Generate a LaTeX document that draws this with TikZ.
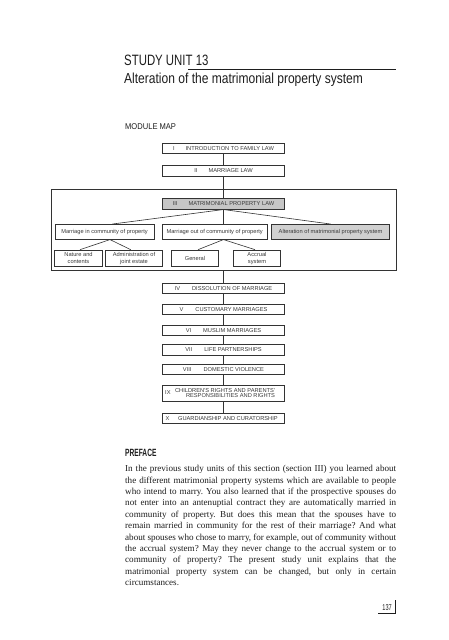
\documentclass[tikz,border=0pt]{standalone}
\usepackage{fontspec}
\usepackage{graphicx}
\setmainfont{Liberation Serif}
\newfontfamily\chartfont{Liberation Sans}
\usetikzlibrary{shadows}
\definecolor{ink}{HTML}{1E1E1E}
\definecolor{boxline}{HTML}{333333}
\definecolor{chartink}{HTML}{3A3A3A}
\definecolor{shadeA}{HTML}{C6C6C6}
\definecolor{shadeB}{HTML}{D0D0D0}
\newcommand\jline[1]{\hbox to 271pt{#1}}
\tikzset{
  mbox/.style={draw=boxline, line width=0.55pt, fill=white, inner sep=0pt,
    font=\chartfont\fontsize{5.7}{6.7}\selectfont, text=chartink, align=center,
    drop shadow={shadow xshift=0.7pt, shadow yshift=-0.7pt, fill=boxline, opacity=0.85}},
  mainbox/.style={mbox, minimum width=122pt, minimum height=10.2pt},
  rowbox/.style={mbox, minimum height=15pt},
  subbox/.style={mbox, minimum height=16.5pt},
  framebox/.style={draw=boxline, line width=0.7pt, fill=white, inner sep=0pt},
  conn/.style={draw=boxline, line width=0.6pt},
  head/.style={anchor=base west, inner sep=0pt, text=ink},
}
\begin{document}
\begin{tikzpicture}[x=1pt,y=-1pt]
\useasboundingbox (0,0) rectangle (448,640);
\fill[white] (0,0) rectangle (448,640);

% headings
\node[head] (su) at (124,65.5) {\chartfont\fontsize{15}{15}\selectfont\scalebox{0.76}[1]{STUDY UNIT 13}};
\node[head] (title) at (124,83.5) {\chartfont\fontsize{14.5}{14.5}\selectfont\scalebox{0.83}[1]{Alteration of the matrimonial property system}};
\coordinate (ruleA) at (188,69.3);
\coordinate (ruleB) at (396,69.3);
\draw[line width=0.9pt, ink] (ruleA) -- (ruleB);
\node[head] (mm) at (125,129.3) {\chartfont\fontsize{8.4}{8.4}\selectfont\scalebox{0.9}[1]{MODULE MAP}};

% frame
\node[framebox, minimum width=345pt, minimum height=81pt] (frame) at (223.5,229.5) {};

% main column boxes
\node[mainbox] (i) at (223.5,148.3) {I\hspace{11pt}INTRODUCTION TO FAMILY LAW};
\node[mainbox] (ii) at (223.5,170.8) {II\hspace{11pt}MARRIAGE LAW};
\node[mainbox, fill=shadeA, minimum height=11.3pt] (iii) at (223.5,203.6) {III\hspace{11pt}MATRIMONIAL PROPERTY LAW};

\node[rowbox, minimum width=99pt] (min) at (104.5,231.8) {Marriage in community of property};
\node[rowbox, minimum width=104.5pt] (mout) at (214.7,231.8) {Marriage out of community of property};
\node[rowbox, minimum width=118pt, fill=shadeB] (alt) at (330.5,231.8) {Alteration of matrimonial property system};

\node[subbox, minimum width=48.4pt] (nat) at (78.5,258.2) {Nature and\\contents};
\node[subbox, minimum width=57.4pt] (adm) at (134,258.2) {Administration of\\joint estate};
\node[subbox, minimum width=46.6pt] (gen) at (195,258.2) {General};
\node[subbox, minimum width=47.4pt] (acc) at (257,258.2) {Accrual\\system};

\node[mainbox] (iv) at (223.5,288.3) {IV\hspace{12pt}DISSOLUTION OF MARRIAGE};
\node[mainbox] (v) at (223.5,309.3) {V\hspace{12pt}CUSTOMARY MARRIAGES};
\node[mainbox] (vi) at (223.5,330.2) {VI\hspace{12pt}MUSLIM MARRIAGES};
\node[mainbox] (vii) at (223.5,349.7) {VII\hspace{12pt}LIFE PARTNERSHIPS};
\node[mainbox] (viii) at (223.5,369.2) {VIII\hspace{12pt}DOMESTIC VIOLENCE};
\node[mainbox, minimum height=16.7pt] (ix) at (223.5,393.3) {\makebox[122pt]{\hspace{2.7pt}IX\hfill\begin{tabular}{@{}r@{}}CHILDREN'S RIGHTS AND PARENTS'\\[-1.6pt]RESPONSIBILITIES AND RIGHTS\end{tabular}\hspace{9.5pt}}};
\node[mainbox] (x) at (223.5,418.3) {\makebox[122pt]{\hspace{3.2pt}X\hfill GUARDIANSHIP AND CURATORSHIP\hspace{6.8pt}}};

% connectors
\path[conn] (i) -- (ii);
\path[conn] (ii) -- (iii);
\path[conn] (iii.south) -- (iii.south |- mout.north);
\path[conn] (iii.south) -- ([xshift=8pt]min.north);
\path[conn] (iii.south) -- (alt.north);
\path[conn] ([xshift=5.5pt]min.south) -- ([xshift=1.5pt]nat.north);
\path[conn] ([xshift=5.5pt]min.south) -- ([xshift=-3.3pt]adm.north);
\path[conn] (mout.south -| iii.south) -- ([xshift=3pt]gen.north);
\path[conn] (mout.south -| iii.south) -- ([xshift=-2pt]acc.north);
\path[conn] (frame.south) -- (iv.north);
\path[conn] (iv) -- (v);
\path[conn] (v) -- (vi);
\path[conn] (vi) -- (vii);
\path[conn] (vii) -- (viii);
\path[conn] (viii) -- (ix);
\path[conn] (ix) -- (x);

% preface
\node[head] (pre) at (125,456) {\chartfont\bfseries\fontsize{10.5}{10.5}\selectfont\scalebox{0.63}[1]{PREFACE}};
\node[anchor=base west, inner sep=0pt, text=ink] (para) at (125,471.6) {\parbox[t]{271pt}{\fontsize{9.1}{11.4}\selectfont\frenchspacing
\jline{In the previous study units of this section (section III) you learned about}
\jline{the different matrimonial property systems which are available to people}
\jline{who intend to marry. You also learned that if the prospective spouses do}
\jline{not enter into an antenuptial contract they are automatically married in}
\jline{community of property. But does this mean that the spouses have to}
\jline{remain married in community for the rest of their marriage? And what}
\jline{about spouses who chose to marry, for example, out of community without}
\jline{the accrual system? May they never change to the accrual system or to}
\jline{community of property? The present study unit explains that the}
\jline{matrimonial property system can be changed, but only in certain}
\hbox{circumstances.}}};

% page number
\node[anchor=base east, inner sep=0pt, text=ink] (pg) at (392,610.5) {\chartfont\fontsize{8.5}{8.5}\selectfont\scalebox{0.66}[1]{137}};
\coordinate (pgtop) at (395.5,600);
\coordinate (pgbl) at (378,613);
\draw[line width=0.8pt, ink] (pgtop) -- (pgtop |- pgbl) -- (pgbl);
\end{tikzpicture}
\end{document}
